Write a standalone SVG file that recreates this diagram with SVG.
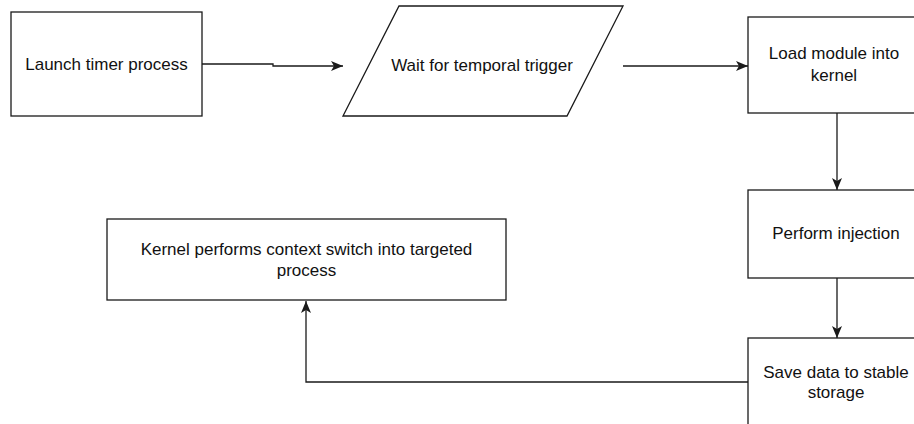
<svg xmlns="http://www.w3.org/2000/svg" width="914" height="424" viewBox="0 0 914 424">
  <style>
    .shape { fill: #ffffff; stroke: #1a1a1a; stroke-width: 1.3; }
    .edge { fill: none; stroke: #1a1a1a; stroke-width: 1.3; }
    text { font-family: "Liberation Sans", Arial, sans-serif; font-size: 17px; fill: #111111; text-anchor: middle; }
  </style>
  <defs>
    <marker id="arrow" markerUnits="userSpaceOnUse" markerWidth="14" markerHeight="12" viewBox="0 0 14 12" refX="12" refY="6" orient="auto">
      <path d="M0,1 L12,6 L0,11 L3,6 Z" fill="#1a1a1a"/>
    </marker>
  </defs>

  <rect width="914" height="424" fill="#ffffff"/>

  <g id="connectors">
    <path class="edge" d="M202,64 H273 V66 H343" marker-end="url(#arrow)"/>
    <path class="edge" d="M623,66 H748" marker-end="url(#arrow)"/>
    <path class="edge" d="M837,113 V190" marker-end="url(#arrow)"/>
    <path class="edge" d="M837,278 V338" marker-end="url(#arrow)"/>
    <path class="edge" d="M748,382 H306 V301" marker-end="url(#arrow)"/>
  </g>

  <g id="launch-timer">
    <rect class="shape" x="11" y="12" width="191" height="104"/>
    <text x="106.5" y="70">Launch timer process</text>
  </g>

  <g id="wait-trigger">
    <polygon class="shape" points="399,6 623,6 567,116 343,116"/>
    <text x="482" y="71">Wait for temporal trigger</text>
  </g>

  <g id="load-module">
    <rect class="shape" x="748" y="17" width="178" height="96"/>
    <text x="834" y="59">Load module into</text>
    <text x="834" y="81">kernel</text>
  </g>

  <g id="perform-injection">
    <rect class="shape" x="748" y="190" width="178" height="88"/>
    <text x="836" y="239">Perform injection</text>
  </g>

  <g id="save-data">
    <rect class="shape" x="748" y="338" width="178" height="100"/>
    <text x="836" y="378">Save data to stable</text>
    <text x="836" y="398">storage</text>
  </g>

  <g id="context-switch">
    <rect class="shape" x="107" y="219" width="399" height="81"/>
    <text x="306.5" y="255">Kernel performs context switch into targeted</text>
    <text x="306.5" y="276">process</text>
  </g>
</svg>
